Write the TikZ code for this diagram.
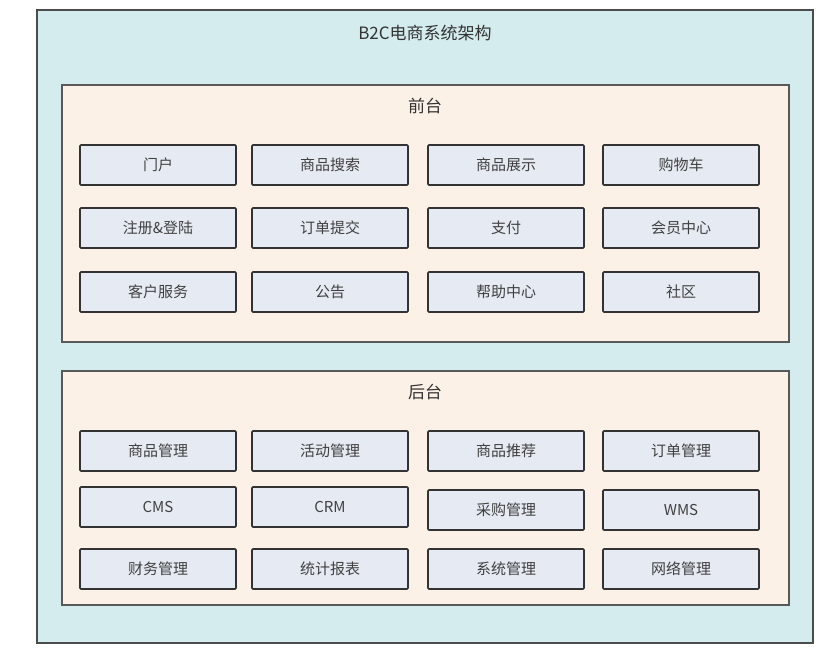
\documentclass[tikz,border=0pt]{standalone}
\usepackage{fontspec}
\newfontfamily\cjk{Noto Sans CJK SC}
\definecolor{outerbg}{HTML}{D4ECEE}
\definecolor{panelbg}{HTML}{FCF1E6}
\definecolor{boxbg}{HTML}{E6EBF3}
\tikzset{
  module/.style={draw=black!80, line width=1.6pt, fill=boxbg, rounded corners=1pt,
    minimum width=156pt, minimum height=40pt, font=\cjk\fontsize{15}{15}\selectfont, text=black!75},
  panel/.style={draw=black!65, line width=1.3pt, fill=panelbg},
  ptitle/.style={font=\cjk\fontsize{17}{17}\selectfont, text=black!80}
}
\begin{document}
\begin{tikzpicture}[x=1pt,y=-1pt]
  \useasboundingbox (0,0) rectangle (840,659);
  \fill [white] (0,0) rectangle (840,659);
  % outer frame
  \draw [draw=black!70, line width=1.8pt, fill=outerbg] (37,10) rectangle (813,643);
  \node [ptitle] (title) at (425,33) {B2C电商系统架构};
  % front
  \draw [panel] (62,85) rectangle (789,342);
  \node [ptitle] (front) at (425,106) {前台};
  \node [module] (f11) at (158,165) {门户};
  \node [module] (f12) at (330,165) {商品搜索};
  \node [module] (f13) at (506,165) {商品展示};
  \node [module] (f14) at (681,165) {购物车};
  \node [module] (f21) at (158,228) {注册\&登陆};
  \node [module] (f22) at (330,228) {订单提交};
  \node [module] (f23) at (506,228) {支付};
  \node [module] (f24) at (681,228) {会员中心};
  \node [module] (f31) at (158,292) {客户服务};
  \node [module] (f32) at (330,292) {公告};
  \node [module] (f33) at (506,292) {帮助中心};
  \node [module] (f34) at (681,292) {社区};
  % back
  \draw [panel] (62,371) rectangle (789,605);
  \node [ptitle] (back) at (425,392) {后台};
  \node [module] (b11) at (158,451) {商品管理};
  \node [module] (b12) at (330,451) {活动管理};
  \node [module] (b13) at (506,451) {商品推荐};
  \node [module] (b14) at (681,451) {订单管理};
  \node [module] (b21) at (158,507) {CMS};
  \node [module] (b22) at (330,507) {CRM};
  \node [module] (b23) at (506,510) {采购管理};
  \node [module] (b24) at (681,510) {WMS};
  \node [module] (b31) at (158,569) {财务管理};
  \node [module] (b32) at (330,569) {统计报表};
  \node [module] (b33) at (506,569) {系统管理};
  \node [module] (b34) at (681,569) {网络管理};
\end{tikzpicture}
\end{document}
